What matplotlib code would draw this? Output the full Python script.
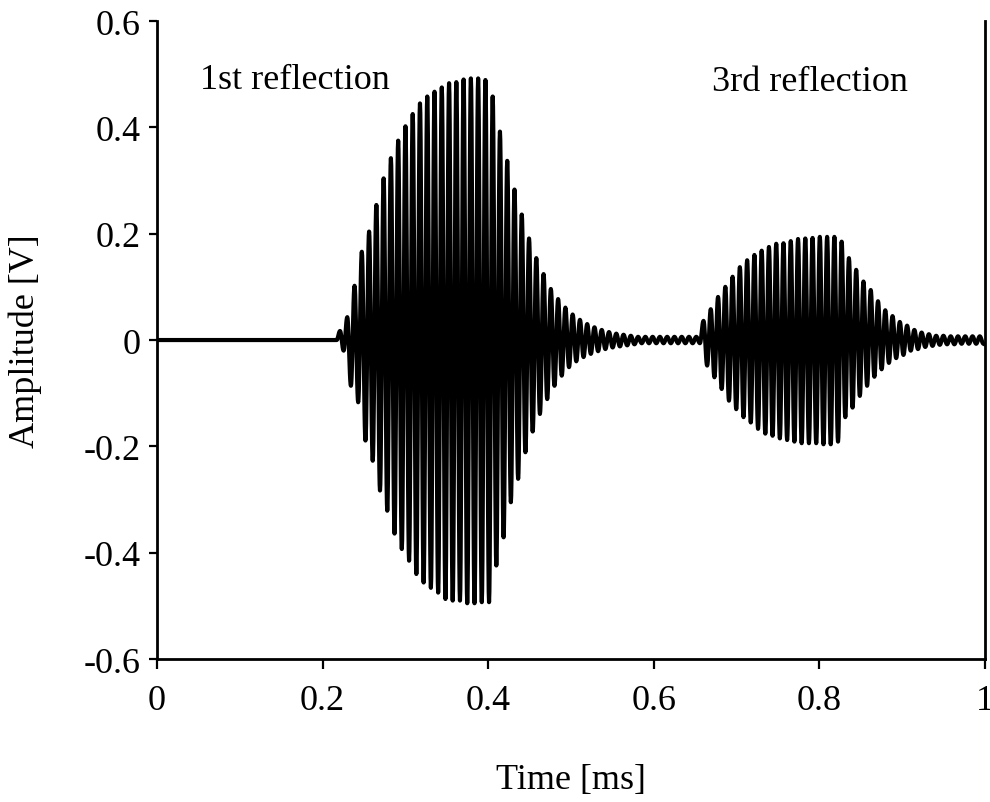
import numpy as np
import matplotlib
matplotlib.use("Agg")
import matplotlib.pyplot as plt

# Echo signal: one carrier, per-cycle peak and trough values [V]
first_peak_ms = 0.221     # time of the first positive peak
period_ms = 0.00878       # carrier period (about 114 kHz)
onset_ms = 0.217          # where the trace leaves zero

peak_v = [0.017, 0.043, 0.102, 0.166, 0.204, 0.254, 0.304, 0.342, 0.375, 0.402,
          0.425, 0.445, 0.458, 0.467, 0.475, 0.483, 0.485, 0.490, 0.492, 0.492,
          0.489, 0.458, 0.392, 0.337, 0.283, 0.236, 0.191, 0.154, 0.124, 0.096,
          0.077, 0.061, 0.048, 0.038, 0.030, 0.024, 0.019, 0.015, 0.012, 0.010,
          0.008, 0.006, 0.006, 0.006, 0.006, 0.006, 0.006, 0.006, 0.006, 0.006,
          0.036, 0.058, 0.081, 0.100, 0.119, 0.137, 0.150, 0.160, 0.168, 0.175,
          0.181, 0.182, 0.186, 0.190, 0.191, 0.192, 0.194, 0.194, 0.194, 0.185,
          0.154, 0.132, 0.110, 0.094, 0.073, 0.056, 0.045, 0.034, 0.027, 0.019,
          0.014, 0.011, 0.008, 0.008, 0.007, 0.007, 0.007, 0.007, 0.007]

trough_v = [-0.020, -0.086, -0.117, -0.189, -0.227, -0.283, -0.321, -0.364, -0.393, -0.415,
            -0.440, -0.456, -0.466, -0.475, -0.487, -0.490, -0.490, -0.495, -0.495, -0.493,
            -0.493, -0.424, -0.371, -0.305, -0.261, -0.211, -0.172, -0.139, -0.111, -0.086,
            -0.067, -0.051, -0.040, -0.032, -0.026, -0.021, -0.017, -0.014, -0.012, -0.010,
            -0.008, -0.006, -0.006, -0.006, -0.006, -0.006, -0.006, -0.006, -0.006, -0.006,
            -0.048, -0.070, -0.092, -0.114, -0.130, -0.145, -0.155, -0.167, -0.176, -0.180,
            -0.185, -0.188, -0.191, -0.194, -0.194, -0.194, -0.196, -0.196, -0.191, -0.145,
            -0.127, -0.105, -0.086, -0.069, -0.055, -0.043, -0.034, -0.028, -0.020, -0.017,
            -0.013, -0.011, -0.009, -0.008, -0.008, -0.007, -0.007, -0.007, -0.007]

labels = ["1st reflection", "3rd reflection"]
label_pos = [(0.052, 0.49), (0.670, 0.487)]

x_ticks = [0, 0.2, 0.4, 0.6, 0.8, 1]
x_ticklabels = ["0", "0.2", "0.4", "0.6", "0.8", "1"]
y_ticks = [-0.6, -0.4, -0.2, 0, 0.2, 0.4, 0.6]
y_ticklabels = ["-0.6", "-0.4", "-0.2", "0", "0.2", "0.4", "0.6"]

# extrema in time order: flat lead-in, then peak, trough, peak, ...
ext_t = [0.0, onset_ms]
ext_v = [0.0, 0.0]
for k, (p, q) in enumerate(zip(peak_v, trough_v)):
    ext_t += [first_peak_ms + k * period_ms, first_peak_ms + (k + 0.5) * period_ms]
    ext_v += [p, q]

# join neighbouring extrema with half-cosine strokes
t_parts, v_parts = [np.array([0.0])], [np.array([0.0])]
for i in range(1, len(ext_t)):
    s = np.linspace(0, 1, 12)[1:]
    t_parts.append(ext_t[i - 1] + (ext_t[i] - ext_t[i - 1]) * s)
    v_parts.append(ext_v[i - 1] + (ext_v[i] - ext_v[i - 1]) * (1 - np.cos(np.pi * s)) / 2)
t = np.concatenate(t_parts)
v = np.concatenate(v_parts)
keep = t <= 1.0
t, v = t[keep], v[keep]

plt.rcParams['font.family'] = ['Liberation Serif', 'DejaVu Serif']

fig = plt.figure(figsize=(9.9, 8.03), dpi=100)
ax = fig.add_axes([0.1586, 0.178, 0.8364, 0.7946])
ax.plot(t, v, color='black', lw=3.0, solid_joinstyle='round')

ax.set_xlim(0, 1)
ax.set_ylim(-0.6, 0.6)
ax.set_xticks(x_ticks)
ax.set_xticklabels(x_ticklabels)
ax.set_yticks(y_ticks)
ax.set_yticklabels(y_ticklabels)
ax.tick_params(axis='both', labelsize=26, direction='out', width=1.6, colors='black')
ax.tick_params(axis='x', length=7, pad=11)
ax.tick_params(axis='y', length=6, pad=6)
for side in ['left', 'bottom', 'right']:
    ax.spines[side].set_linewidth(2)
ax.spines['top'].set_visible(False)

ax.set_xlabel('Time [ms]', fontsize=26, labelpad=33)
ax.set_ylabel('Amplitude [V]', fontsize=26, labelpad=30)

for text, (x, y) in zip(labels, label_pos):
    ax.text(x, y, text, fontsize=26, ha='left', va='center')

fig.savefig('out.png', dpi=100)
